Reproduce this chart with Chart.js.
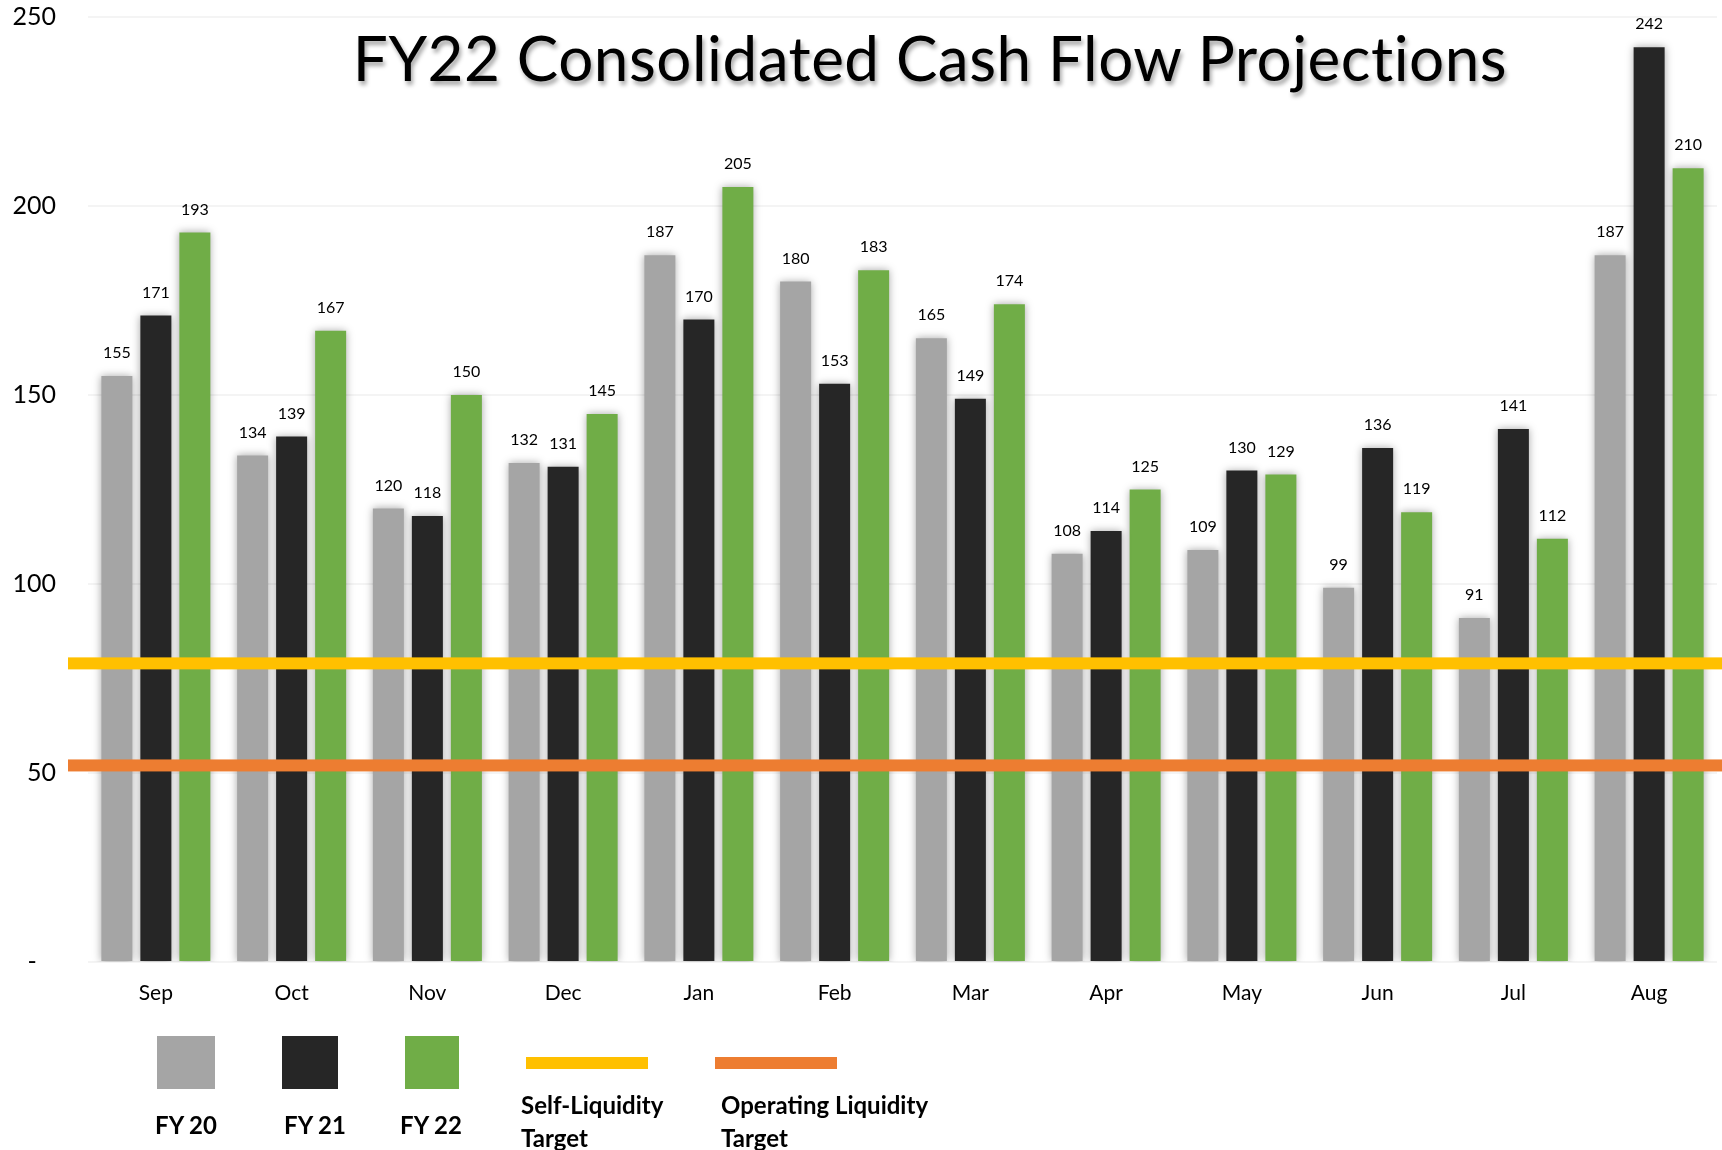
<!DOCTYPE html>
<html>
<head>
<meta charset="utf-8">
<script src="https://cdn.jsdelivr.net/npm/chart.js@4"></script>
<style>
  body { margin: 0; background: #fff; font-family: Lato, "Open Sans", sans-serif; }
  #wrap { position: relative; width: 1722px; height: 1150px; overflow: hidden; }
  #title { position: absolute; left: 0; width: 1860px; top: 20px; text-align: center; font-size: 62px; color: #000;
           letter-spacing: 0.5px; text-shadow: 2px 4px 4px rgba(0,0,0,0.35); }
  .sw { position: absolute; }
  .lab { position: absolute; font-weight: bold; font-size: 24px; color: #000; line-height: 33px; }
</style>
</head>
<body>
<div id="wrap">
  <canvas id="grafik" width="1722" height="1150"></canvas>
  <div id="title">FY22 Consolidated Cash Flow Projections</div>
  <div id="legend"></div>
</div>
<script>
const bulan = ['Sep','Oct','Nov','Dec','Jan','Feb','Mar','Apr','May','Jun','Jul','Aug'];
const fy20 = [155,134,120,132,187,180,165,108,109,99,91,187];
const fy21 = [171,139,118,131,170,153,149,114,130,136,141,242];
const fy22 = [193,167,150,145,205,183,174,125,129,119,112,210];
const seriNama = ['FY 20','FY 21','FY 22'];
const seriWarna = ['#a5a5a5','#262626','#70ad47'];
const targetNama = ['Self-Liquidity Target','Operating Liquidity Target'];
const targetNilai = [79, 52];
const targetWarna = ['#ffc000','#ed7d31'];
const yTicks = [0,50,100,150,200,250];

const fontUtama = 'Lato, "Open Sans", sans-serif';

// bayangan halus di belakang batang
const shadowPlugin = {
    id: 'barShadow',
    beforeDatasetDraw(chart) {
        chart.ctx.save();
        chart.ctx.shadowColor = 'rgba(0,0,0,0.35)';
        chart.ctx.shadowBlur = 8;
    },
    afterDatasetDraw(chart) {
        chart.ctx.restore();
    }
};

// garis target + label nilai
const targetPlugin = {
    id: 'targetLines',
    afterDatasetsDraw(chart) {
        const ctx = chart.ctx;
        const y = chart.scales.y;
        ctx.save();
        ctx.font = '16px ' + fontUtama;
        ctx.fillStyle = '#000';
        ctx.textAlign = 'center';
        ctx.textBaseline = 'bottom';
        chart.data.datasets.forEach((ds, i) => {
            chart.getDatasetMeta(i).data.forEach((bar, j) => {
                ctx.fillText(ds.data[j], bar.x, bar.y - 15);
            });
        });
        targetNilai.forEach((v, i) => {
            const py = y.getPixelForValue(v);
            ctx.fillStyle = targetWarna[i];
            ctx.fillRect(chart.chartArea.left - 20, py - 6, chart.width, 12);
        });
        ctx.restore();
    }
};

const ctx = document.getElementById('grafik').getContext('2d');
const chart = new Chart(ctx, {
    type: 'bar',
    data: {
        labels: bulan,
        datasets: [fy20, fy21, fy22].map((d, i) => ({
            label: seriNama[i], data: d, backgroundColor: seriWarna[i],
            categoryPercentage: 0.862, barPercentage: 0.795
        }))
    },
    options: {
        responsive: false,
        animation: false,
        layout: { padding: { top: 17, right: 5, bottom: 128, left: 0 } },
        plugins: { legend: { display: false }, tooltip: { enabled: false } },
        scales: {
            x: {
                grid: { display: false },
                border: { display: false },
                ticks: { color: '#000', font: { size: 21, family: fontUtama }, padding: 11 },
                afterFit(s) { s.height = 60; }
            },
            y: {
                min: 0, max: 250,
                afterBuildTicks(s) { s.ticks = yTicks.map(v => ({ value: v })); },
                grid: { color: '#f4f4f4', drawTicks: false, lineWidth: 2 },
                border: { display: false },
                ticks: {
                    color: '#000', font: { size: 25, family: fontUtama }, padding: 32,
                    callback: v => v === 0 ? '-   ' : v
                },
                afterFit(s) { s.width = 88; s.paddingTop = 0; s.paddingBottom = 0; }
            }
        }
    },
    plugins: [shadowPlugin, targetPlugin]
});

// legenda manual di bawah grafik
const legend = document.getElementById('legend');
const boxX = [157, 282, 405];
const labX = [186, 315, 431];
seriNama.forEach((n, i) => {
    const b = document.createElement('div');
    b.className = 'sw';
    b.style.cssText = `left:${boxX[i]}px;top:1036px;width:${[58,56,54][i]}px;height:53px;background:${seriWarna[i]};`;
    legend.appendChild(b);
    const t = document.createElement('div');
    t.className = 'lab';
    t.style.cssText = `left:${labX[i] - 40}px;width:80px;text-align:center;top:1108px;`;
    t.innerText = n;
    legend.appendChild(t);
});
const lineX = [526, 715];
const lineLabX = [521, 721];
targetNama.forEach((n, i) => {
    const b = document.createElement('div');
    b.className = 'sw';
    b.style.cssText = `left:${lineX[i]}px;top:1057px;width:122px;height:12px;background:${targetWarna[i]};`;
    legend.appendChild(b);
    const t = document.createElement('div');
    t.className = 'lab';
    t.style.cssText = `left:${lineLabX[i]}px;top:1088px;width:${i === 0 ? 170 : 240}px;`;
    t.innerText = n;
    legend.appendChild(t);
});
</script>
</body>
</html>
